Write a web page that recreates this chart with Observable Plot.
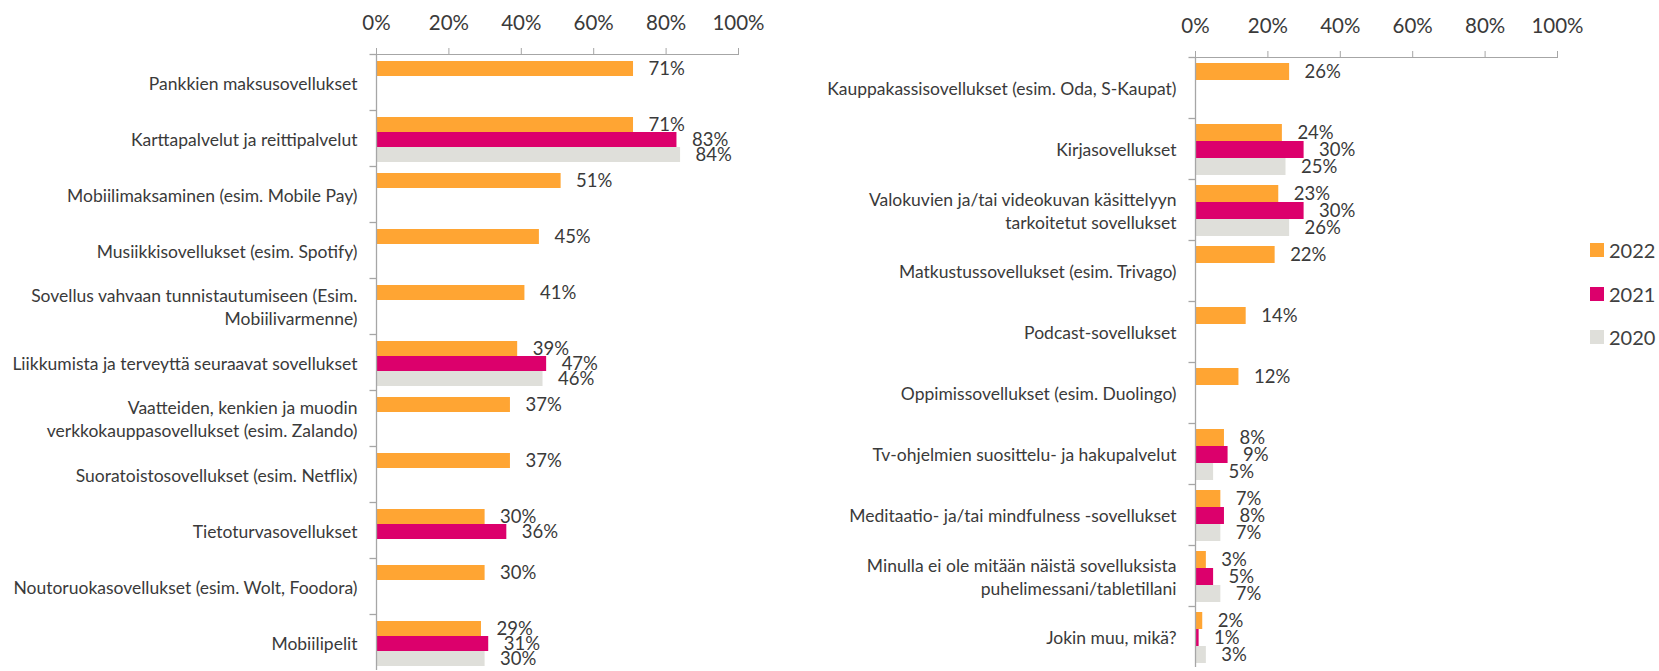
<!DOCTYPE html>
<html><head><meta charset="utf-8">
<script src="https://cdn.jsdelivr.net/npm/d3@7"></script>
<script src="https://cdn.jsdelivr.net/npm/@observablehq/plot@0.6"></script>
<style>
body{margin:0;background:#fff;}
#wrap{position:relative;width:1659px;height:671px;overflow:hidden;font-family:Lato,sans-serif;color:#404040;}
#left{position:absolute;left:0;top:0;}
#right{position:absolute;left:800px;top:0;}
#legend{position:absolute;left:1590px;top:240px;}
.item{display:flex;align-items:center;height:20px;margin-bottom:23.5px;font-size:20px;line-height:20px;}
.sw{width:14px;height:14px;margin-right:5px;flex:none;}
</style></head><body>
<div id="wrap"><div id="left"></div><div id="right"></div><div id="legend"></div></div>
<script>
const years = ["2022", "2021", "2020"];
const colors = ["#FFA533", "#DC006C", "#DFDFDA"];
const xTicks = [0, 20, 40, 60, 80, 100];

const leftCategories = [
  "Pankkien maksusovellukset",
  "Karttapalvelut ja reittipalvelut",
  "Mobiilimaksaminen (esim. Mobile Pay)",
  "Musiikkisovellukset (esim. Spotify)",
  "Sovellus vahvaan tunnistautumiseen (Esim.\nMobiilivarmenne)",
  "Liikkumista ja terveyttä seuraavat sovellukset",
  "Vaatteiden, kenkien ja muodin\nverkkokauppasovellukset (esim. Zalando)",
  "Suoratoistosovellukset (esim. Netflix)",
  "Tietoturvasovellukset",
  "Noutoruokasovellukset (esim. Wolt, Foodora)",
  "Mobiilipelit"
];
const left2022 = [71, 71, 51, 45, 41, 39, 37, 37, 30, 30, 29];
const left2021 = [null, 83, null, null, null, 47, null, null, 36, null, 31];
const left2020 = [null, 84, null, null, null, 46, null, null, null, null, 30];

const rightCategories = [
  "Kauppakassisovellukset (esim. Oda, S-Kaupat)",
  "Kirjasovellukset",
  "Valokuvien ja/tai videokuvan käsittelyyn\ntarkoitetut sovellukset",
  "Matkustussovellukset (esim. Trivago)",
  "Podcast-sovellukset",
  "Oppimissovellukset (esim. Duolingo)",
  "Tv-ohjelmien suosittelu- ja hakupalvelut",
  "Meditaatio- ja/tai mindfulness -sovellukset",
  "Minulla ei ole mitään näistä sovelluksista\npuhelimessani/tabletillani",
  "Jokin muu, mikä?"
];
const right2022 = [26, 24, 23, 22, 14, 12, 8, 7, 3, 2];
const right2021 = [null, 30, 30, null, null, null, 9, 8, 5, 1];
const right2020 = [null, 25, 26, null, null, null, 5, 7, 7, 3];

const tickSymbol = {draw(ctx) { ctx.moveTo(-7, 0); ctx.lineTo(0, 0); }};
const axisGrey = "#a6a6a6";
const textColor = "#3a3a3a";

function chart(cats, series, opts) {
  const data = [];
  cats.forEach((c, i) => series.forEach((s, k) => {
    if (s[i] != null) data.push({cat: c, year: years[k], value: s[i]});
  }));
  return Plot.plot({
    width: opts.width, height: 671,
    marginLeft: opts.marginLeft, marginRight: opts.marginRight, marginTop: 52, marginBottom: 0,
    style: {fontFamily: "Lato, sans-serif", fontSize: "17px", color: textColor, background: "transparent", overflow: "visible"},
    x: {domain: [0, 100]},
    y: {domain: years, paddingInner: 0, paddingOuter: opts.padOuter, align: 0.6, axis: null},
    fy: {domain: cats, padding: 0},
    color: {domain: years, range: colors},
    marks: [
      Plot.barX(data, {fy: "cat", y: "year", x: "value", fill: "year"}),
      Plot.text(data, {fy: "cat", y: "year", x: "value", text: d => d.value + "%", textAnchor: "start", dx: 15, fill: textColor, fontSize: 18.5}),
      Plot.ruleX([0], {stroke: axisGrey, strokeWidth: 1.3}),
      Plot.frame({anchor: "top", facet: "super", stroke: axisGrey}),
      Plot.dot([0], {frameAnchor: "top-left", symbol: tickSymbol, fill: "none", stroke: axisGrey, strokeWidth: 1.3}),
      Plot.axisX({anchor: "top", ticks: xTicks, tickFormat: d => d + "%", tickSize: 7, tickPadding: 18, stroke: axisGrey, fill: textColor, fontSize: 20.5, label: null}),
      Plot.axisFy({anchor: "left", tickSize: 0, tickPadding: 19, fontSize: 17.5, lineHeight: 1.32, label: null, fill: textColor})
    ]
  });
}

document.getElementById("left").append(chart(leftCategories, [left2022, left2021, left2020], {width: 780, marginLeft: 376, marginRight: 42, padOuter: 0.258}));
document.getElementById("right").append(chart(rightCategories, [right2022, right2021, right2020], {width: 800, marginLeft: 395, marginRight: 43, padOuter: 0.289}));

const legend = document.getElementById("legend");
years.forEach((y, i) => {
  const item = document.createElement("div");
  item.className = "item";
  const sw = document.createElement("span");
  sw.className = "sw";
  sw.style.background = colors[i];
  const t = document.createElement("span");
  t.textContent = y;
  item.append(sw, t);
  legend.append(item);
});
</script>
</body></html>
